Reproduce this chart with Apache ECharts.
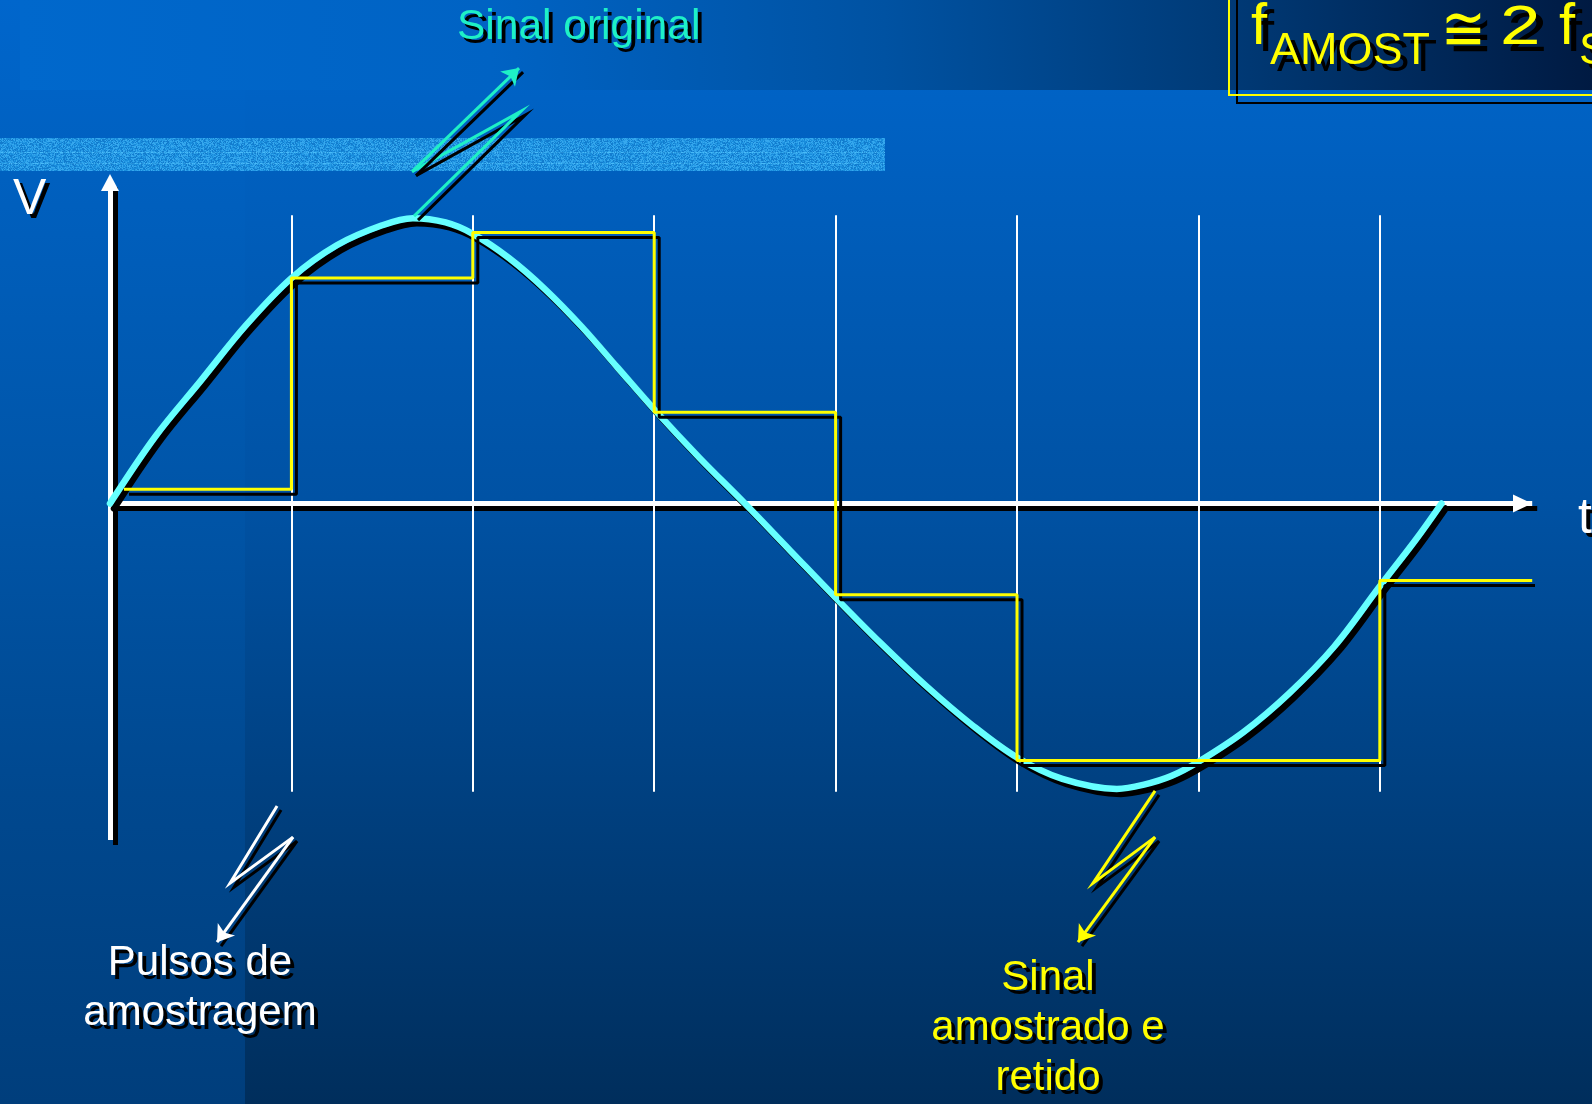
<!DOCTYPE html>
<html>
<head>
<meta charset="utf-8">
<title>Amostragem e retenção</title>
<script src="https://cdn.jsdelivr.net/npm/echarts@6/dist/echarts.min.js"></script>
<style>
  html, body { margin: 0; padding: 0; background: #0060c0; overflow: hidden; }
  #chart { width: 1592px; height: 1104px; }
</style>
</head>
<body>
<div id="chart"></div>
<script>
// Time is measured in sampling periods, voltage in units of the peak amplitude.

// Original analog signal
const signalTimes  = [0, 0.25, 0.5, 0.75, 1, 1.25, 1.5, 1.67, 1.85, 2, 2.2, 2.4, 2.6, 2.8, 3, 3.25, 3.5,
                      3.75, 4, 4.25, 4.5, 4.75, 5, 5.25, 5.55, 5.7, 5.85, 6, 6.25, 6.5, 6.75, 7, 7.2, 7.34];
const signalValues = [0, 0.235, 0.43, 0.625, 0.79, 0.905, 0.975, 1.0, 0.985, 0.945, 0.86, 0.75, 0.62, 0.475, 0.33, 0.16, 0,
                      -0.165, -0.33, -0.49, -0.64, -0.775, -0.89, -0.965, -1.0, -0.985, -0.955, -0.905, -0.80, -0.665, -0.50, -0.29, -0.125, 0];

// Sampling pulses
const sampleTimes = [1, 2, 3, 4, 5, 6, 7];
const pulseTop = 1.01;
const pulseBottom = -1.01;

// Sampled-and-held output: each level is kept until the next sampling instant
const holdTimes  = [0.077, 1, 2, 3, 4, 5, 6, 7, 7.84];
const holdValues = [0.05, 0.79, 0.95, 0.32, -0.32, -0.90, -0.90, -0.27, -0.27];

// Axis extents
const timeMax = 7.84;
const voltMin = -1.179;
const voltMax = 1.125;

// Zig-zag callout pointers (start on the mark, end at the arrow tip)
const pointerOriginal = [[1.676, 1.007], [2.266, 1.375], [1.665, 1.163], [2.255, 1.526]];
const pointerPulses   = [[0.921, -1.060], [0.662, -1.330], [1.009, -1.169], [0.590, -1.537]];
const pointerHeld     = [[5.761, -1.007], [5.419, -1.330], [5.761, -1.169], [5.336, -1.537]];

// Texts
const labelOriginal = 'Sinal original';
const labelPulses = ['Pulsos de', 'amostragem'];
const labelHeld = ['Sinal', 'amostrado e', 'retido'];

const FONT = '"Liberation Sans", Arial, Helvetica, sans-serif';
const AQUA = '#1ef0c6';
const CYAN = '#66ffff';
const YELLOW = '#ffff00';

function speckle(w, h) {
  const c = document.createElement('canvas');
  c.width = w; c.height = h;
  const ctx = c.getContext('2d');
  const img = ctx.createImageData(w, h);
  const palette = [[24, 140, 220], [54, 168, 238], [18, 124, 206], [38, 154, 230]];
  for (let y = 0; y < h; y++) {
    for (let x = 0; x < w; x++) {
      let k = (Math.imul(x, 374761393) + Math.imul(y, 668265263)) >>> 0;
      k = Math.imul(k ^ (k >>> 13), 1274126177) >>> 0;
      k = (k ^ (k >>> 16)) & 3;
      let [r, g, b] = palette[k];
      if (y === 14 || y === 25) { r += 18; g += 18; b += 10; }
      const i = (y * w + x) * 4;
      img.data[i] = r; img.data[i + 1] = g; img.data[i + 2] = Math.min(255, b); img.data[i + 3] = 255;
    }
  }
  ctx.putImageData(img, 0, 0);
  return c;
}

// Text placed by its alphabetic baseline, with the slide's hard black drop shadow
function txt(text, x, baseline, size, color, opts) {
  opts = opts || {};
  const sh = opts.shadow == null ? 4 : opts.shadow;
  const el = {
    type: 'text',
    x: x,
    y: baseline - size * 0.35,
    z: 20,
    silent: true,
    style: {
      text: text,
      font: size + 'px ' + (opts.family || FONT),
      fill: color,
      align: opts.align || 'left',
      verticalAlign: 'middle',
      textShadowColor: '#000',
      textShadowBlur: 0.6,
      textShadowOffsetX: sh,
      textShadowOffsetY: sh
    }
  };
  if (opts.scaleX) { el.scaleX = opts.scaleX; }
  return el;
}

function pointerSeries(points, color) {
  const style = { color: color, width: 3, opacity: 1, shadowColor: '#000', shadowBlur: 0, shadowOffsetX: 4, shadowOffsetY: 4 };
  return [
    {
      type: 'lines', coordinateSystem: 'cartesian2d', polyline: true, clip: false, z: 6,
      lineStyle: style, silent: true,
      data: [{ coords: points.slice(0, 3) }]
    },
    {
      type: 'lines', coordinateSystem: 'cartesian2d', clip: false, z: 6,
      symbol: ['none', 'arrow'], symbolSize: 16,
      lineStyle: style, silent: true,
      data: [{ coords: [points[2], points[3]] }]
    }
  ];
}

const chart = echarts.init(document.getElementById('chart'), null, { renderer: 'canvas', width: 1592, height: 1104 });

const axisLineStyle = { color: '#ffffff', width: 5, cap: 'butt', shadowColor: '#000', shadowBlur: 0, shadowOffsetX: 5, shadowOffsetY: 5 };

const option = {
  animation: false,
  backgroundColor: '#0058b0',
  grid: { left: 110, top: 182.5, width: 1422.2, height: 657.5, containLabel: false },
  xAxis: {
    type: 'value', min: 0, max: timeMax,
    axisLine: {
      onZero: true,
      symbol: ['none', 'triangle'], symbolSize: [18, 19], symbolOffset: [0, -9.7],
      lineStyle: axisLineStyle
    },
    axisTick: { show: false }, axisLabel: { show: false }, splitLine: { show: false }
  },
  yAxis: {
    type: 'value', min: voltMin, max: voltMax,
    axisLine: {
      show: true, onZero: true,
      symbol: ['none', 'triangle'], symbolSize: [18, 17],
      lineStyle: axisLineStyle
    },
    axisTick: { show: false }, axisLabel: { show: false }, splitLine: { show: false }
  },
  graphic: [
    // slide background
    { type: 'rect', z: -30, silent: true, shape: { x: 0, y: 0, width: 1592, height: 1104 },
      style: { fill: { type: 'linear', x: 0, y: 0, x2: 0, y2: 1, colorStops: [
        { offset: 0, color: '#0066cc' }, { offset: 0.45, color: '#0052a4' },
        { offset: 0.72, color: '#004080' }, { offset: 1, color: '#002e5c' }] } } },
    { type: 'rect', z: -29, silent: true, shape: { x: 0, y: 0, width: 245, height: 1104 },
      style: { fill: { type: 'linear', x: 0, y: 0, x2: 0, y2: 1, colorStops: [
        { offset: 0, color: '#0066cc' }, { offset: 0.45, color: '#0055a8' },
        { offset: 0.72, color: '#00488f' }, { offset: 1, color: '#003e7c' }] } } },
    { type: 'rect', z: -28, silent: true, shape: { x: 20, y: 0, width: 1572, height: 90 },
      style: { fill: { type: 'linear', x: 0, y: 0, x2: 1, y2: 0, colorStops: [
        { offset: 0, color: '#0068cc' }, { offset: 0.3, color: '#0063c4' },
        { offset: 0.55, color: '#0052a2' }, { offset: 0.76, color: '#003b78' },
        { offset: 1, color: '#001a42' }] } } },
    { type: 'image', z: -27, silent: true, x: 0, y: 138,
      style: { image: speckle(885, 33), width: 885, height: 33 } },

    // formula box
    { type: 'rect', z: 15, silent: true, shape: { x: 1237, y: -2, width: 400, height: 105 },
      style: { fill: 'none', stroke: '#000', lineWidth: 2 } },
    { type: 'rect', z: 16, silent: true, shape: { x: 1229, y: -10, width: 400, height: 105 },
      style: { fill: 'none', stroke: YELLOW, lineWidth: 2 } },
    txt('f', 1251, 48, 58, YELLOW, { shadow: 7 }),
    txt('AMOST', 1270, 67, 45, YELLOW, { shadow: 7 }),
    txt('\u2245', 1441, 56, 63, YELLOW, { shadow: 7, family: '"DejaVu Sans", sans-serif', scaleX: 0.85 }),
    txt('2', 1500, 48, 56, YELLOW, { shadow: 7, scaleX: 1.3 }),
    txt('f', 1559, 48, 58, YELLOW, { shadow: 7 }),
    txt('S', 1579, 67, 45, YELLOW, { shadow: 7 }),

    // axis names
    txt('V', 13, 218, 50, '#ffffff', { shadow: 4 }),
    txt('t', 1578, 537, 50, '#ffffff', { shadow: 4 }),

    // callout labels
    txt(labelOriginal, 457, 42, 42.5, AQUA, { shadow: 4 }),
    txt(labelPulses[0], 200, 978, 42, '#ffffff', { align: 'center', shadow: 4 }),
    txt(labelPulses[1], 200, 1028, 42, '#ffffff', { align: 'center', shadow: 4 }),
    txt(labelHeld[0], 1048, 993, 42, YELLOW, { align: 'center', shadow: 4 }),
    txt(labelHeld[1], 1048, 1043, 42, YELLOW, { align: 'center', shadow: 4 }),
    txt(labelHeld[2], 1048, 1093, 42, YELLOW, { align: 'center', shadow: 4 })
  ],
  series: [
    {
      name: 'Pulsos de amostragem',
      type: 'lines', coordinateSystem: 'cartesian2d', clip: false, z: 2, silent: true,
      lineStyle: { color: '#ffffff', width: 2, opacity: 1 },
      data: sampleTimes.map(t => ({ coords: [[t, pulseBottom], [t, pulseTop]] }))
    },
    {
      name: 'Sinal original',
      type: 'line', z: 3, clip: false, smooth: 0.35, symbol: 'none', silent: true,
      lineStyle: { color: CYAN, width: 6.5, cap: 'round', join: 'round', shadowColor: '#000', shadowBlur: 0, shadowOffsetX: 4, shadowOffsetY: 5 },
      data: signalTimes.map((t, i) => [t, signalValues[i]])
    },
    {
      name: 'Sinal amostrado e retido',
      type: 'line', z: 4, clip: false, step: 'end', symbol: 'none', silent: true,
      lineStyle: { color: YELLOW, width: 3, shadowColor: '#000', shadowBlur: 0, shadowOffsetX: 5, shadowOffsetY: 5 },
      data: holdTimes.map((t, i) => [t, holdValues[i]])
    },
    ...pointerSeries(pointerOriginal, AQUA),
    ...pointerSeries(pointerPulses, '#ffffff'),
    ...pointerSeries(pointerHeld, YELLOW)
  ]
};

chart.setOption(option);
</script>
</body>
</html>
